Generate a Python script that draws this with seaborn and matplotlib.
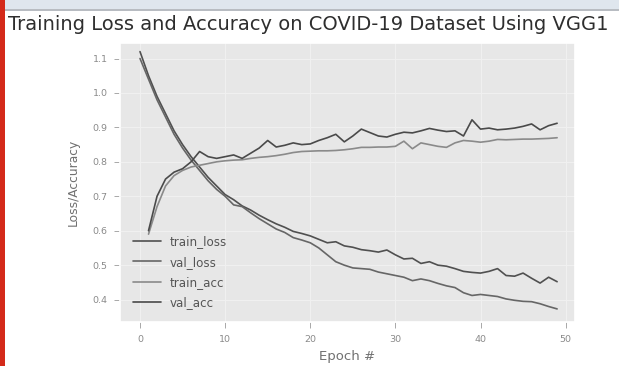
import numpy as np
import pandas as pd
import matplotlib
matplotlib.use("Agg")
import matplotlib.pyplot as plt
from matplotlib.patches import Rectangle
import seaborn as sns

epochs = list(range(50))
nan = np.nan
train_loss = [1.12, 1.05, 0.99, 0.94, 0.89, 0.85, 0.815, 0.785, 0.755, 0.73,
              0.705, 0.69, 0.672, 0.66, 0.645, 0.632, 0.62, 0.61, 0.598, 0.592,
              0.585, 0.575, 0.565, 0.568, 0.556, 0.552, 0.545, 0.542, 0.538, 0.544,
              0.53, 0.518, 0.52, 0.505, 0.51, 0.50, 0.497, 0.49, 0.482, 0.479,
              0.477, 0.482, 0.49, 0.47, 0.468, 0.477, 0.462, 0.448, 0.465, 0.452]
val_loss = [1.10, 1.04, 0.98, 0.93, 0.88, 0.84, 0.805, 0.775, 0.745, 0.72,
            0.70, 0.675, 0.67, 0.652, 0.635, 0.62, 0.605, 0.595, 0.58, 0.573,
            0.565, 0.55, 0.53, 0.51, 0.50, 0.492, 0.49, 0.488, 0.48, 0.475,
            0.47, 0.465, 0.455, 0.46, 0.455, 0.447, 0.44, 0.435, 0.42, 0.412,
            0.415, 0.412, 0.409, 0.402, 0.398, 0.395, 0.394, 0.388, 0.38, 0.373]
train_acc = [nan, 0.59, 0.67, 0.73, 0.76, 0.775, 0.785, 0.79, 0.795, 0.80,
             0.803, 0.805, 0.806, 0.81, 0.813, 0.815, 0.818, 0.822, 0.827, 0.83,
             0.831, 0.832, 0.832, 0.833, 0.835, 0.838, 0.842, 0.842, 0.843, 0.843,
             0.845, 0.86, 0.838, 0.855, 0.85, 0.845, 0.842, 0.855, 0.862, 0.86,
             0.857, 0.86, 0.865, 0.864, 0.865, 0.866, 0.866, 0.867, 0.868, 0.87]
val_acc = [nan, 0.60, 0.70, 0.75, 0.77, 0.78, 0.80, 0.83, 0.815, 0.81,
           0.815, 0.82, 0.81, 0.825, 0.84, 0.862, 0.843, 0.848, 0.855, 0.85,
           0.852, 0.862, 0.87, 0.88, 0.858, 0.875, 0.895, 0.885, 0.875, 0.872,
           0.88, 0.886, 0.884, 0.89, 0.897, 0.892, 0.888, 0.89, 0.875, 0.922,
           0.895, 0.898, 0.893, 0.895, 0.898, 0.903, 0.91, 0.893, 0.905, 0.912]

series = {"train_loss": train_loss, "val_loss": val_loss,
          "train_acc": train_acc, "val_acc": val_acc}
colors = {"train_loss": "#505050", "val_loss": "#666666",
          "train_acc": "#8a8a8a", "val_acc": "#4a4a4a"}

title_text = "Training Loss and Accuracy on COVID-19 Dataset Using VGG1"

sns.set_theme(style="darkgrid", rc={
    "axes.facecolor": "#e7e7e7",
    "grid.color": "#f1f1f1",
    "grid.linewidth": 0.7,
    "axes.edgecolor": "white",
    "xtick.bottom": True,
    "ytick.left": True,
    "xtick.color": "#9a9a9a",
    "ytick.color": "#9a9a9a",
    "xtick.major.size": 4,
    "ytick.major.size": 4,
    "xtick.major.width": 0.6,
    "ytick.major.width": 0.6,
})
plt.rcParams["font.family"] = ["DejaVu Sans"]

fig = plt.figure(figsize=(6.19, 3.66), dpi=100)
fig.patch.set_facecolor("white")
ax = fig.add_axes([120/619, 44/366, 455/619, 279/366])

for name, vals in series.items():
    sns.lineplot(x=epochs, y=vals, ax=ax, label=name, color=colors[name],
                 linewidth=1.2)

ax.set_ylim(0.335, 1.145)
ax.set_xlim(-2.35, 51.1)
ax.set_yticks([0.4, 0.5, 0.6, 0.7, 0.8, 0.9, 1.0, 1.1])
ax.set_xticks([0, 10, 20, 30, 40, 50])
ax.tick_params(labelsize=6.8, labelcolor="#8a8a8a", pad=5)
ax.set_xlabel("Epoch #", fontsize=9.5, color="#707070", labelpad=5)
ax.set_ylabel("Loss/Accuracy", fontsize=8.8, color="#707070", labelpad=9)

leg = ax.legend(loc="lower left", fontsize=8.6, frameon=False,
                handlelength=2.4, handletextpad=0.7, labelspacing=0.62,
                borderaxespad=0.65)
for t in leg.get_texts():
    t.set_color("#555555")

fig.text(8/619, 1 - 25/366, title_text,
         fontsize=14.0, color="#2e2e2e", ha="left", va="center")

# page decorations seen in the screenshot
fig.patches.append(Rectangle((0, 1 - 9/366), 1, 9/366, transform=fig.transFigure,
                             facecolor="#dfe6ee", edgecolor="none", zorder=0))
fig.patches.append(Rectangle((0, 1 - 11/366), 1, 2/366, transform=fig.transFigure,
                             facecolor="#b8bcc2", edgecolor="none", zorder=0))
fig.patches.append(Rectangle((0, 0), 5/619, 1, transform=fig.transFigure,
                             facecolor="#d42a1a", edgecolor="none", zorder=5))

fig.savefig("out.png", dpi=100)
